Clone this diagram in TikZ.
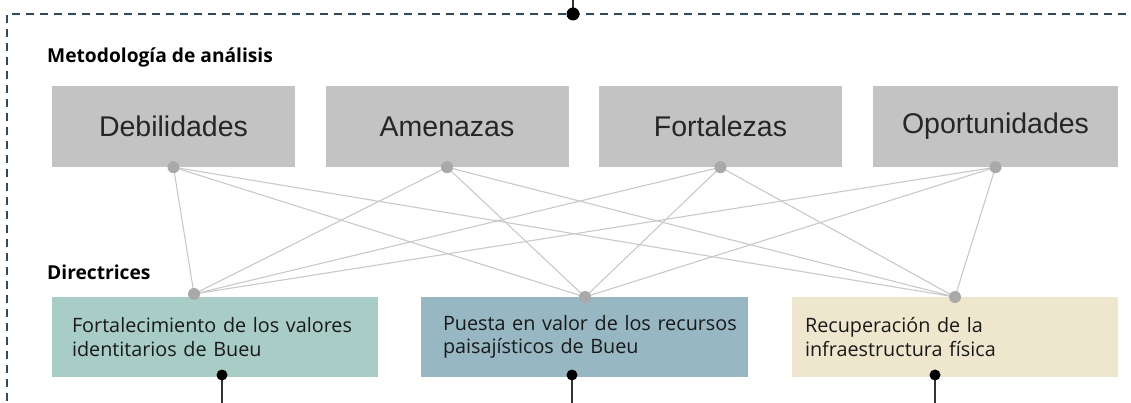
\documentclass[tikz,border=0pt]{standalone}
\usepackage{fontspec}
\setmainfont{Open Sans}
\newfontfamily\swotfont{Liberation Sans}
\usetikzlibrary{positioning}

\definecolor{framecol}{HTML}{2F4A5C}
\definecolor{swotgray}{HTML}{C3C3C3}
\definecolor{linkgray}{HTML}{C9C9C9}
\definecolor{dotgray}{HTML}{A9A9A9}
\definecolor{teal1}{HTML}{A8CDC6}
\definecolor{blue1}{HTML}{97B7C3}
\definecolor{sand1}{HTML}{EEE7CD}

\begin{document}
\begin{tikzpicture}[x=1pt,y=-1pt,
    swot/.style={fill=swotgray, inner sep=0pt, minimum width=243pt, minimum height=81pt,
      font=\swotfont\fontsize{28.5}{32}\selectfont, text=black!85},
    dirbox/.style={inner ysep=0pt, minimum height=80pt, align=left,
      font=\fontsize{19.8}{23.5}\selectfont, text=black!90},
    heading/.style={anchor=west, inner sep=0pt, font=\bfseries\fontsize{19.2}{22}\selectfont},
    gdot/.style={circle, fill=dotgray, inner sep=0pt, minimum size=12pt},
    kdot/.style={circle, fill=black, inner sep=0pt, minimum size=11pt},
    link/.style={linkgray, line width=1.1pt}]
    \useasboundingbox (0,0) rectangle (1131,403);
    \clip (0,0) rectangle (1131,403);
    % Frame
    \draw[framecol, line width=1.5pt, dash pattern=on 8pt off 6pt] (1140,14) -- (7,14) -- (7,410);
    \coordinate (top) at (573,14);
    \draw[black!80, line width=1.3pt] (top) -- ++(0,-20);
    \node[kdot, minimum size=13pt] (topdot) at (top) {};
    % Headings
    \node[heading] (methodo) at (47,57) {Metodología de análisis};
    \node[heading] (direct) at (47,272) {Directrices};
    % SWOT boxes
    \node[swot] (deb) at (173.5,126.5) {Debilidades};
    \node[swot] (ame) at (447,126.5) {Amenazas};
    \node[swot] (fort) at (720.5,126.5) {Fortalezas};
    \node[swot, minimum width=245pt] (opor) at (995.5,126.5) {Oportunidades};
    % Directrices boxes
    \node[dirbox, fill=teal1, inner xsep=20pt, text width=286pt] (dir1) at (215,337)
      {\mbox{Fortalecimiento de los valores}\\identitarios de Bueu};
    \node[dirbox, fill=blue1, inner xsep=22pt, text width=283pt] (dir2) at (584.5,337)
      {\mbox{Puesta en valor de los recursos}\\paisajísticos de Bueu};
    \node[dirbox, fill=sand1, inner xsep=13pt, text width=300pt] (dir3) at (955,337)
      {Recuperación de la\\infraestructura física};
    % Anchor points
    \coordinate (in1) at (194,294);
    \coordinate (in2) at (585,297);
    \coordinate (in3) at (955,297);
    \coordinate (out1) at (222,375);
    \coordinate (out2) at (572,375);
    \coordinate (out3) at (935,375);
    % Links
    \foreach \s in {deb,ame,fort,opor}
      \foreach \t in {in1,in2,in3}
        \draw[link] (\s.south) -- (\t);
    \foreach \s in {deb,ame,fort,opor}
      \node[gdot] at (\s.south) {};
    \foreach \t in {in1,in2,in3}
      \node[gdot] at (\t) {};
    % Outputs
    \foreach \o in {out1,out2,out3} {
      \draw[black!80, line width=1.3pt] (\o) -- ++(0,40);
      \node[kdot] at (\o) {};
    }
\end{tikzpicture}
\end{document}
